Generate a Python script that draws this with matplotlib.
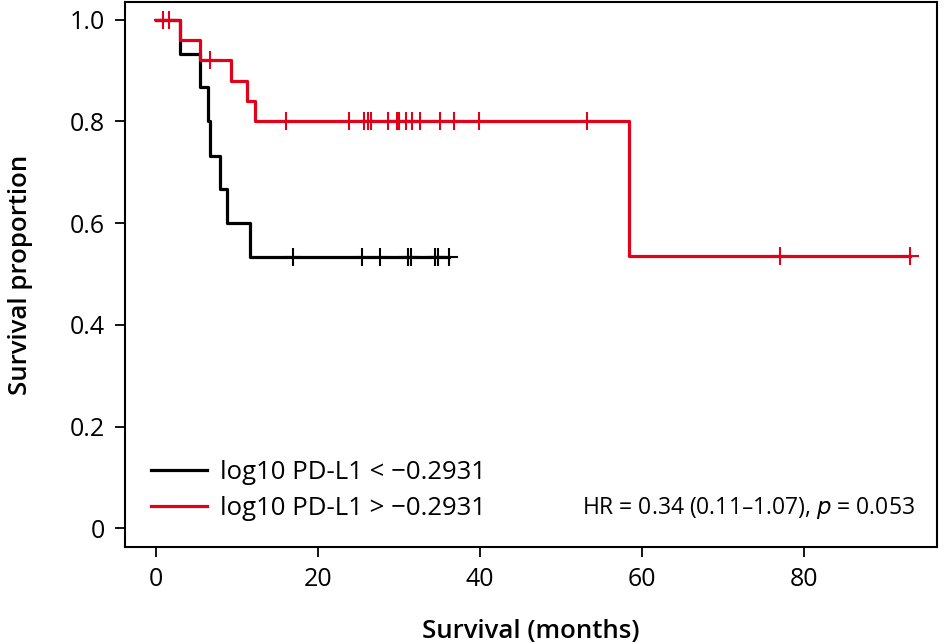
import matplotlib
matplotlib.use("Agg")
import matplotlib.pyplot as plt
import numpy as np

plt.rcParams['font.family'] = ['Open Sans', 'DejaVu Sans']

# Kaplan-Meier steps (months, survival proportion)
low_times = [0, 3.05, 5.5, 6.5, 6.7, 7.9, 8.8, 11.6]
low_surv = [1.0, 0.933, 0.867, 0.800, 0.733, 0.667, 0.600, 0.533]
low_censor = [16.95, 25.5, 27.65, 31.07, 31.48, 34.5, 34.8, 36.2]

high_times = [0, 3.05, 5.4, 9.3, 11.2, 12.3, 58.4]
high_surv = [1.0, 0.96, 0.92, 0.88, 0.84, 0.80, 0.535]
high_censor = [0.9, 1.65, 6.75, 16.05, 23.87, 25.72, 26.13, 26.54, 28.7, 29.8,
               30.02, 30.85, 31.64, 32.59, 35.04, 36.77, 39.86, 53.25, 77.0, 93.1]

RED = '#E2001A'


def km_step(times, surv, censor):
    t_end = max(max(times), max(censor))
    xs = list(times) + [t_end]
    ys = list(surv) + [surv[-1]]
    # survival value at each censor time
    cs = [surv[np.searchsorted(times, c, side='right') - 1] for c in censor]
    return xs, ys, cs


fig, ax = plt.subplots(figsize=(9.44, 6.43), dpi=100)
fig.subplots_adjust(left=0.1324, right=0.9926, top=0.9969, bottom=0.1493)

for times, surv, censor, col, lab in [
        (low_times, low_surv, low_censor, 'black', 'log10 PD-L1 < \u22120.2931'),
        (high_times, high_surv, high_censor, RED, 'log10 PD-L1 > \u22120.2931')]:
    xs, ys, cs = km_step(times, surv, censor)
    ax.step(xs, ys, where='post', color=col, lw=2.3, label=lab, zorder=3)
    ax.plot(censor, cs, ls='none', marker='+', ms=12.5, mew=1.5, color=col, zorder=4)

ax.set_xlim(-3.8, 96.4)
ax.set_ylim(-0.037, 1.035)
ax.set_xticks([0, 20, 40, 60, 80])
ax.set_yticks([0, 0.2, 0.4, 0.6, 0.8, 1.0])
ax.set_yticklabels(['0', '0.2', '0.4', '0.6', '0.8', '1.0'])
ax.tick_params(direction='out', length=7.5, width=1.3, labelsize=18, pad=7)
for s in ax.spines.values():
    s.set_linewidth(1.5)

ax.set_xlabel('Survival (months)', fontsize=18.5, fontweight='semibold', labelpad=19)
ax.set_ylabel('Survival proportion', fontsize=18.5, fontweight='semibold', labelpad=26)

ax.legend(loc='lower left', bbox_to_anchor=(0.0, 0.0), frameon=False,
          fontsize=18.5, handlelength=2.2, handletextpad=0.5, labelspacing=0.45,
          borderaxespad=0.6)
ax.text(0.973, 0.048, 'HR = 0.34 (0.11\u20131.07), $p$ = 0.053', transform=ax.transAxes,
        ha='right', va='bottom', fontsize=16.5)

fig.savefig('out.png', dpi=100)
